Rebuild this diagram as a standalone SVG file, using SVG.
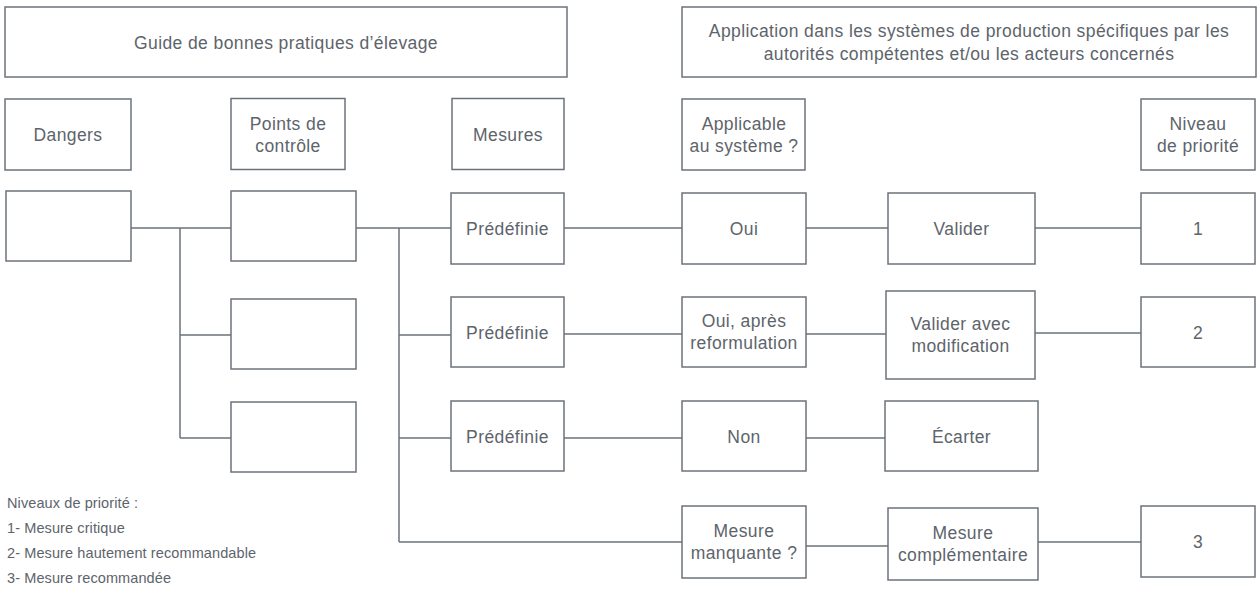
<svg xmlns="http://www.w3.org/2000/svg" width="1257" height="589" viewBox="0 0 1257 589">
<style>
.b{fill:#fff;stroke:#6b737a;stroke-width:1.5}
.c{fill:none;stroke:#6b737a;stroke-width:1.5}
.t{font-family:"Liberation Sans",Arial,sans-serif;font-size:17.5px;letter-spacing:0.4px;fill:#5d646b;text-anchor:middle}
.l{font-family:"Liberation Sans",Arial,sans-serif;font-size:14.5px;letter-spacing:0.1px;fill:#5d646b}
</style>
<rect width="1257" height="589" fill="#fff"/>
<g id="connectors">
<path class="c" d="M131 228H231M180 228V438M180 335H231M180 438H231"/>
<path class="c" d="M356 228H451M399 228V542M399 335H451M399 438H451M399 542H682"/>
<path class="c" d="M564 228H682M564 334H682M564 438H682"/>
<path class="c" d="M806 228H888M806 334H886M806 438H885M806 546H888"/>
<path class="c" d="M1035 228H1141M1035 333H1141M1038 542H1141"/>
</g>
<g id="guide"><rect class="b" x="5" y="7" width="562" height="70"/><text class="t" x="286" y="48.5">Guide de bonnes pratiques d’élevage</text></g>
<g id="application"><rect class="b" x="682" y="7" width="574" height="70"/><text class="t" x="969" y="36.5">Application dans les systèmes de production spécifiques par les</text><text class="t" x="969" y="59.5">autorités compétentes et/ou les acteurs concernés</text></g>
<g id="h-dangers"><rect class="b" x="5" y="99" width="126" height="71"/><text class="t" x="68" y="140.5">Dangers</text></g>
<g id="h-points"><rect class="b" x="231" y="98.5" width="114" height="71"/><text class="t" x="288" y="129.5">Points de</text><text class="t" x="288" y="151.5">contrôle</text></g>
<g id="h-mesures"><rect class="b" x="452" y="98.5" width="112" height="71"/><text class="t" x="508" y="140.5">Mesures</text></g>
<g id="h-applicable"><rect class="b" x="682" y="99" width="123" height="71"/><text class="t" x="744" y="129.5">Applicable</text><text class="t" x="744" y="151.5">au système ?</text></g>
<g id="h-niveau"><rect class="b" x="1141" y="99" width="114" height="71"/><text class="t" x="1198" y="129.5">Niveau</text><text class="t" x="1198" y="151.5">de priorité</text></g>
<g id="danger1"><rect class="b" x="6" y="191" width="125" height="70"/></g>
<g id="point1"><rect class="b" x="231" y="191" width="125" height="70"/></g>
<g id="point2"><rect class="b" x="231" y="299" width="125" height="70"/></g>
<g id="point3"><rect class="b" x="231" y="402" width="125" height="70"/></g>
<g id="predef1"><rect class="b" x="451" y="193" width="113" height="71"/><text class="t" x="507.5" y="235">Prédéfinie</text></g>
<g id="predef2"><rect class="b" x="451" y="297" width="113" height="70"/><text class="t" x="507.5" y="338.5">Prédéfinie</text></g>
<g id="predef3"><rect class="b" x="451" y="401" width="113" height="70"/><text class="t" x="507.5" y="442.5">Prédéfinie</text></g>
<g id="oui"><rect class="b" x="682" y="193" width="124" height="71"/><text class="t" x="744" y="235">Oui</text></g>
<g id="oui-apres"><rect class="b" x="682" y="297" width="124" height="70"/><text class="t" x="744" y="327">Oui, après</text><text class="t" x="744" y="349">reformulation</text></g>
<g id="non"><rect class="b" x="682" y="401" width="124" height="70"/><text class="t" x="744" y="442.5">Non</text></g>
<g id="manquante"><rect class="b" x="682" y="506" width="124" height="72"/><text class="t" x="744" y="537">Mesure</text><text class="t" x="744" y="559">manquante ?</text></g>
<g id="valider"><rect class="b" x="888" y="193" width="147" height="71"/><text class="t" x="961.5" y="235">Valider</text></g>
<g id="valider-modif"><rect class="b" x="886" y="291" width="149" height="88"/><text class="t" x="960.5" y="330">Valider avec</text><text class="t" x="960.5" y="352">modification</text></g>
<g id="ecarter"><rect class="b" x="885" y="401" width="153" height="70"/><text class="t" x="961.5" y="442.5">Écarter</text></g>
<g id="complementaire"><rect class="b" x="888" y="508" width="150" height="72"/><text class="t" x="963" y="539">Mesure</text><text class="t" x="963" y="561">complémentaire</text></g>
<g id="niv1"><rect class="b" x="1141" y="193" width="114" height="71"/><text class="t" x="1198" y="235">1</text></g>
<g id="niv2"><rect class="b" x="1141" y="297" width="114" height="70"/><text class="t" x="1198" y="338.5">2</text></g>
<g id="niv3"><rect class="b" x="1141" y="506" width="114" height="71"/><text class="t" x="1198" y="548">3</text></g>
<g id="legend">
<text class="l" x="7" y="508">Niveaux de priorité :</text>
<text class="l" x="7" y="533">1- Mesure critique</text>
<text class="l" x="7" y="558">2- Mesure hautement recommandable</text>
<text class="l" x="7" y="583">3- Mesure recommandée</text>
</g>
</svg>
